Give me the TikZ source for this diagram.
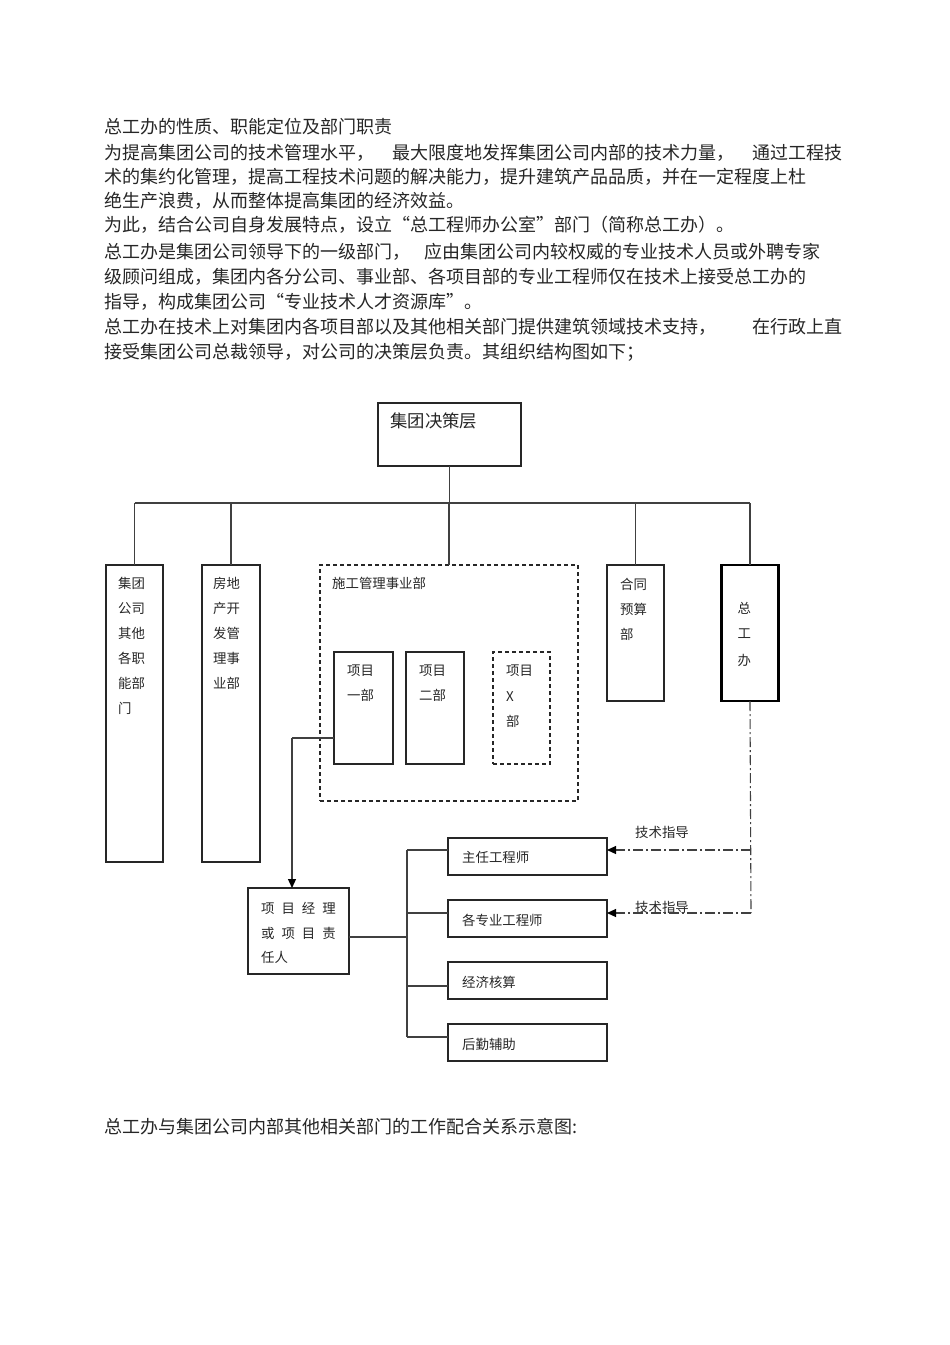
\documentclass[tikz,border=0pt]{standalone}
\usepackage{fontspec}
\setmainfont{Noto Sans CJK SC}
\usetikzlibrary{arrows.meta}
\begin{document}
\begin{tikzpicture}[x=1pt,y=-1pt,
  bt/.style={font=\fontsize{18}{20}\selectfont, anchor=west, inner sep=0pt, text=black!85},
  st/.style={font=\fontsize{13.4}{16}\selectfont, anchor=west, inner sep=0pt, text=black!85},
  bx/.style={draw=black!85, line width=1.1pt, inner sep=0pt, outer sep=0pt},
  dbx/.style={bx, dash pattern=on 4pt off 3pt},
  ln/.style={draw=black!75, line width=1.2pt},
  dd/.style={draw=black!75, line width=1.1pt, dash pattern=on 10pt off 3pt on 2pt off 3pt},
  tip/.style={-{Triangle[length=9pt,width=8pt,fill=black,color=black]}}
]
\useasboundingbox (0,0) rectangle (950,1345);

% body text
\node[bt] (t1) at (104,127) {总工办的性质、职能定位及部门职责};
\node[bt] (t2a) at (104,153) {为提高集团公司的技术管理水平，};
\node[bt] (t2b) at (392,153) {最大限度地发挥集团公司内部的技术力量，};
\node[bt] (t2c) at (752,153) {通过工程技};
\node[bt] (t3) at (104,177) {术的集约化管理，提高工程技术问题的解决能力，提升建筑产品品质，并在一定程度上杜};
\node[bt] (t4) at (104,201) {绝生产浪费，从而整体提高集团的经济效益。};
\node[bt] (t5) at (104,225) {为此，结合公司自身发展特点，设立“总工程师办公室”部门（简称总工办）。};
\node[bt] (t6a) at (104,252) {总工办是集团公司领导下的一级部门，};
\node[bt] (t6b) at (424,252) {应由集团公司内较权威的专业技术人员或外聘专家};
\node[bt] (t7) at (104,277) {级顾问组成，集团内各分公司、事业部、各项目部的专业工程师仅在技术上接受总工办的};
\node[bt] (t8) at (104,302) {指导，构成集团公司“专业技术人才资源库”。};
\node[bt] (t9a) at (104,327) {总工办在技术上对集团内各项目部以及其他相关部门提供建筑领域技术支持，};
\node[bt] (t9b) at (752,327) {在行政上直};
\node[bt] (t10) at (104,352) {接受集团公司总裁领导，对公司的决策层负责。其组织结构图如下；};
\node[bt] (t11) at (104,1127) {总工办与集团公司内部其他相关部门的工作配合关系示意图:};

% boxes
\node[bx, minimum width=143, minimum height=63] (top) at (449.5,434.5) {};
\node[bt, font=\fontsize{17.4}{20}\selectfont] (topt) at (390,421) {集团决策层};

\node[bx, minimum width=57, minimum height=297] (b1) at (134.5,713.5) {};
\foreach \t [count=\i] in {集团,公司,其他,各职,能部,门}
  \node[st] (b1t\i) at (118,558+25*\i) {\t};

\node[bx, minimum width=58, minimum height=297] (b2) at (231,713.5) {};
\foreach \t [count=\i] in {房地,产开,发管,理事,业部}
  \node[st] (b2t\i) at (213,558+25*\i) {\t};

\node[dbx, minimum width=258, minimum height=236] (sg) at (449,683) {};
\node[st] (sgt) at (332,583) {施工管理事业部};

\node[bx, minimum width=59, minimum height=112] (p1) at (363.5,708) {};
\node[st] (p1t1) at (347,671) {项目};
\node[st] (p1t2) at (347,695) {一部};
\node[bx, minimum width=58, minimum height=112] (p2) at (435,708) {};
\node[st] (p2t1) at (419,671) {项目};
\node[st] (p2t2) at (419,695) {二部};
\node[dbx, minimum width=57, minimum height=112] (px) at (521.5,708) {};
\node[st] (pxt1) at (506,671) {项目};
\node[st] (pxt2) at (506,697) {X};
\node[st] (pxt3) at (506,721) {部};

\node[bx, minimum width=57, minimum height=136] (ht) at (635.5,633) {};
\foreach \t [count=\i] in {合同,预算,部}
  \node[st] (htt\i) at (620,559+25*\i) {\t};

\node[bx, draw=black, line width=2.8pt, minimum width=57, minimum height=136] (zg) at (750,633) {};
\foreach \t [count=\i] in {总,工,办}
  \node[st] (zgt\i) at (737.5,582+26*\i) {\t};

\node[bx, minimum width=101, minimum height=86] (pm) at (298.5,931) {};
\node[st] (pmt1) at (261,908) {项\hspace{7pt}目\hspace{7pt}经\hspace{7pt}理};
\node[st] (pmt2) at (261,933) {或\hspace{7pt}项\hspace{7pt}目\hspace{7pt}责};
\node[st] (pmt3) at (261,957) {任人};

\node[bx, minimum width=159, minimum height=37] (r1) at (527.5,856.5) {};
\node[st] (r1t) at (462,857) {主任工程师};
\node[bx, minimum width=159, minimum height=37] (r2) at (527.5,918.5) {};
\node[st] (r2t) at (462,920) {各专业工程师};
\node[bx, minimum width=159, minimum height=37] (r3) at (527.5,980.5) {};
\node[st] (r3t) at (462,982) {经济核算};
\node[bx, minimum width=159, minimum height=37] (r4) at (527.5,1042.5) {};
\node[st] (r4t) at (462,1044) {后勤辅助};

\node[st] (g1) at (635,832) {技术指导};
\node[st] (g2) at (635,907) {技术指导};

% top bus
\coordinate (busL) at (134.5,503);
\coordinate (busR) at (750,503);
\draw[ln] (busL) -- (busR);
\draw[ln] (top.south) -- (top.south |- busL);
\foreach \n in {b1,b2,sg,ht,zg}
  \draw[ln] (\n.north) -- (\n.north |- busL);

% project dept 1 to project manager
\coordinate (pa) at (292,738);
\draw[ln] (pa -| p1.west) -- (pa);
\draw[ln, tip] (pa) -- (pa |- pm.north);

% project manager tree
\coordinate (jn) at (407,937);
\coordinate (s1) at (407,850);
\coordinate (s2) at (407,913);
\coordinate (s3) at (407,986);
\coordinate (s4) at (407,1037);
\draw[ln] (jn -| pm.east) -- (jn);
\draw[ln] (s1) -- (s4);
\foreach \i in {1,2,3,4}
  \draw[ln] (s\i) -- (s\i -| r\i.west);

% technical guidance
\coordinate (zd1) at (751,850);
\coordinate (zd2) at (751,913);
\draw[dd] (zg.south) -- (zd2);
\draw[dd, tip] (zd1) -- (zd1 -| r1.east);
\draw[dd, tip] (zd2) -- (zd2 -| r2.east);
\end{tikzpicture}
\end{document}
